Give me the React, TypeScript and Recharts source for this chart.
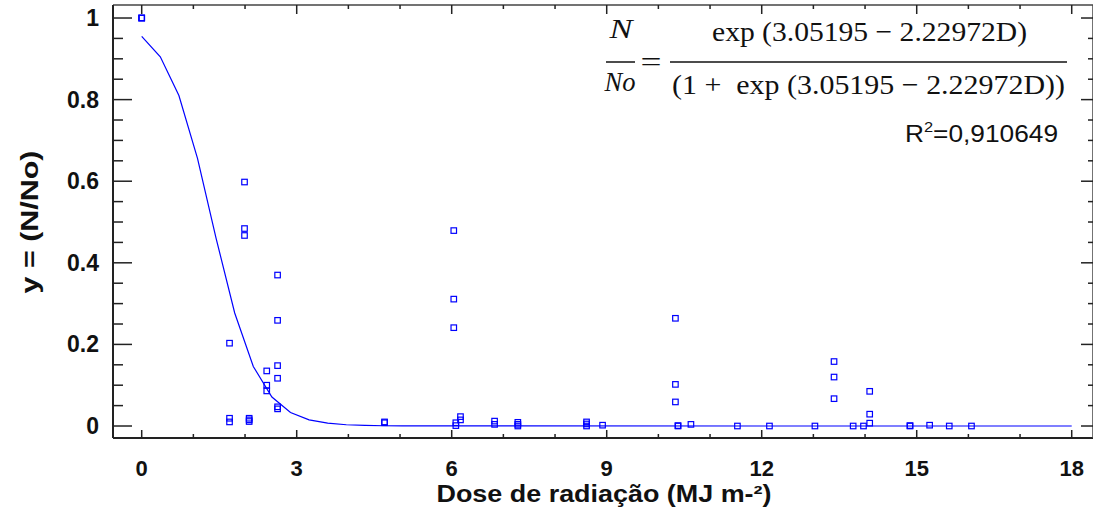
import { ScatterChart, Scatter, XAxis, YAxis, ReferenceLine } from 'recharts'

// observed survival fraction vs radiation dose
const obsDose = [
  0, 0, 0,
  1.7, 1.7, 1.7,
  1.99, 1.99, 1.99,
  2.08, 2.08, 2.08,
  2.42, 2.42, 2.42,
  2.63, 2.63, 2.63, 2.63, 2.63, 2.63,
  4.7, 4.7,
  6.04, 6.04, 6.04,
  6.08, 6.08,
  6.17, 6.17,
  6.83, 6.83,
  7.28, 7.28, 7.28,
  8.61, 8.61, 8.61,
  8.92,
  10.33, 10.33, 10.33,
  10.38, 10.38,
  10.63,
  11.53,
  12.15,
  13.03,
  13.4, 13.4, 13.4,
  13.77,
  13.97,
  14.09, 14.09, 14.09,
  14.87, 14.87,
  15.25,
  15.63,
  16.06,
]
const obsSurv = [
  1, 1, 1,
  0.203, 0.019, 0.01,
  0.598, 0.484, 0.467,
  0.019, 0.015, 0.011,
  0.135, 0.1, 0.086,
  0.37, 0.259, 0.148, 0.117, 0.047, 0.042,
  0.01, 0.008,
  0.479, 0.311, 0.241,
  0.008, 0.001,
  0.023, 0.015,
  0.012, 0.004,
  0.009, 0.004, 0,
  0.01, 0.005, 0,
  0.002,
  0.264, 0.102, 0.059,
  0.001, 0,
  0.004,
  0,
  0,
  0,
  0.158, 0.12, 0.067,
  0,
  0,
  0.085, 0.029, 0.007,
  0.001, 0,
  0.002,
  0,
  0,
]

// fitted logistic curve, as drawn
const fitDose = [0, 0.36, 0.72, 1.08, 1.44, 1.8, 2.16, 2.52, 2.88, 3.24, 3.6, 3.96, 4.32, 4.68, 5.04, 5.4, 5.76, 18]
const fitSurv = [0.955, 0.905, 0.81, 0.656, 0.46, 0.277, 0.146, 0.071, 0.033, 0.015, 0.0069, 0.0031, 0.0014, 0.0006, 0.0003, 0.0001, 0.0001, 0]

const xTicks = [0, 1, 2, 3, 4, 5, 6, 7, 8, 9, 10, 11, 12, 13, 14, 15, 16, 17, 18]
const xLabels = [0, 3, 6, 9, 12, 15, 18]
const yTicks = [0, 0.05, 0.1, 0.15, 0.2, 0.25, 0.3, 0.35, 0.4, 0.45, 0.5, 0.55, 0.6, 0.65, 0.7, 0.75, 0.8, 0.85, 0.9, 0.95, 1]
const yLabels = ['0', '0.2', '0.4', '0.6', '0.8', '1']

const W = 1093
const H = 508
const TOP = 5
const LEFT = 113
const RIGHT = W
const BOTTOM = 438
const AXIS = '#222'
const BLUE = '#0000ff'
const FONT = "'Liberation Sans', Arial, sans-serif"

const observed = obsDose.map((x, i) => ({ x, y: obsSurv[i] }))
const fitted = fitDose.map((x, i) => ({ x, y: fitSurv[i] }))

function XTick({ x, payload }: any) {
  const v = payload.value
  const major = xLabels.includes(v)
  return (
    <g>
      <line x1={x} y1={BOTTOM} x2={x} y2={BOTTOM - (major ? 8 : 4)} stroke={AXIS} strokeWidth={1.5} />
      <line x1={x} y1={TOP} x2={x} y2={TOP + (major ? 9 : 4)} stroke={AXIS} strokeWidth={1.5} />
      {major && (
        <text x={x} y={BOTTOM + 38} textAnchor="middle" fontFamily={FONT} fontWeight="bold" fontSize={22} fill="#111">
          {v}
        </text>
      )}
    </g>
  )
}

function YTick({ y, payload }: any) {
  const v = payload.value
  const idx = Math.round(v * 5)
  const major = Math.abs(v * 5 - idx) < 1e-6
  return (
    <g>
      <line x1={LEFT} y1={y} x2={LEFT + (major ? 19 : 10)} y2={y} stroke={AXIS} strokeWidth={1.5} />
      <line x1={RIGHT} y1={y} x2={RIGHT - (major ? 12 : 5)} y2={y} stroke={AXIS} strokeWidth={1.5} />
      {major && (
        <text x={LEFT - 14} y={y + 8} textAnchor="end" fontFamily={FONT} fontWeight="bold" fontSize={23} fill="#111">
          {yLabels[idx]}
        </text>
      )}
    </g>
  )
}

const SquareMark = ({ cx, cy }: any) => (
  <rect x={cx - 2.75} y={cy - 2.75} width={5.5} height={5.5} fill="none" stroke={BLUE} strokeWidth={1.2} />
)

const NoMark = () => <g />

export default function App() {
  return (
    <div style={{ position: 'absolute', left: 0, top: 0, width: W, height: H, background: '#fff' }}>
      <ScatterChart width={W} height={H} margin={{ top: TOP, right: W - RIGHT, bottom: H - BOTTOM - 1, left: LEFT - 1 }}>
        <XAxis
          type="number"
          dataKey="x"
          domain={[-0.5555, 18.412]}
          allowDataOverflow
          ticks={xTicks}
          interval={0}
          height={1}
          tickSize={0}
          tickMargin={0}
          tickLine={false}
          axisLine={false}
          tick={<XTick />}
        />
        <YAxis
          type="number"
          dataKey="y"
          domain={[-0.0294, 1.0319]}
          allowDataOverflow
          ticks={yTicks}
          interval={0}
          width={1}
          tickSize={0}
          tickMargin={0}
          tickLine={false}
          axisLine={false}
          tick={<YTick />}
        />
        <ReferenceLine y={1.0319} stroke="#444" strokeWidth={1.5} ifOverflow="visible" />
        <ReferenceLine y={-0.0294} stroke={AXIS} strokeWidth={2} ifOverflow="visible" />
        <ReferenceLine x={-0.5555} stroke={AXIS} strokeWidth={2} ifOverflow="visible" />
        <ReferenceLine x={18.412} stroke="#444" strokeWidth={1.5} ifOverflow="visible" />
        <Scatter
          data={fitted}
          line={{ stroke: BLUE, strokeWidth: 1.2 }}
          shape={<NoMark />}
          isAnimationActive={false}
        />
        <Scatter data={observed} shape={<SquareMark />} isAnimationActive={false} />
      </ScatterChart>

      <svg width={W} height={H} style={{ position: 'absolute', left: 0, top: 0, pointerEvents: 'none' }}>
        {/* axis titles */}
        <text
          x={604}
          y={502}
          textAnchor="middle"
          fontFamily={FONT}
          fontWeight="bold"
          fontSize={23}
          fill="#111"
          textLength={335}
          lengthAdjust="spacingAndGlyphs"
        >
          Dose de radiação (MJ m-²)
        </text>
        <text
          transform="translate(38,222) rotate(-90)"
          textAnchor="middle"
          fontFamily={FONT}
          fontWeight="bold"
          fontSize={24}
          fill="#111"
          textLength={143}
          lengthAdjust="spacingAndGlyphs"
        >
          y = (N/No)
        </text>

        {/* fitted equation */}
        <g fontFamily="'Liberation Serif', 'Times New Roman', serif" fontSize={28} fill="#111">
          <text x={621} y={38} textAnchor="middle" fontStyle="italic" textLength={23} lengthAdjust="spacingAndGlyphs">N</text>
          <line x1={606} y1={62} x2={635} y2={62} stroke="#111" strokeWidth={1.5} />
          <text x={620} y={91} textAnchor="middle" fontStyle="italic" textLength={31} lengthAdjust="spacingAndGlyphs">No</text>
          <text x={651} y={71} textAnchor="middle" textLength={21} lengthAdjust="spacingAndGlyphs">=</text>
          <text x={712} y={41} textLength={315} lengthAdjust="spacingAndGlyphs">exp (3.05195 − 2.22972D)</text>
          <line x1={670} y1={62} x2={1067} y2={62} stroke="#111" strokeWidth={1.5} />
          <text x={672} y={94} textLength={393} lengthAdjust="spacingAndGlyphs">{'(1 +\u00a0\u00a0exp (3.05195 − 2.22972D))'}</text>
        </g>
        <text x={905} y={142} fontFamily={FONT} fontSize={24} fill="#111" textLength={153} lengthAdjust="spacingAndGlyphs">
          R<tspan fontSize={15} dy={-10}>2</tspan>
          <tspan dy={10}>=0,910649</tspan>
        </text>
      </svg>
    </div>
  )
}
